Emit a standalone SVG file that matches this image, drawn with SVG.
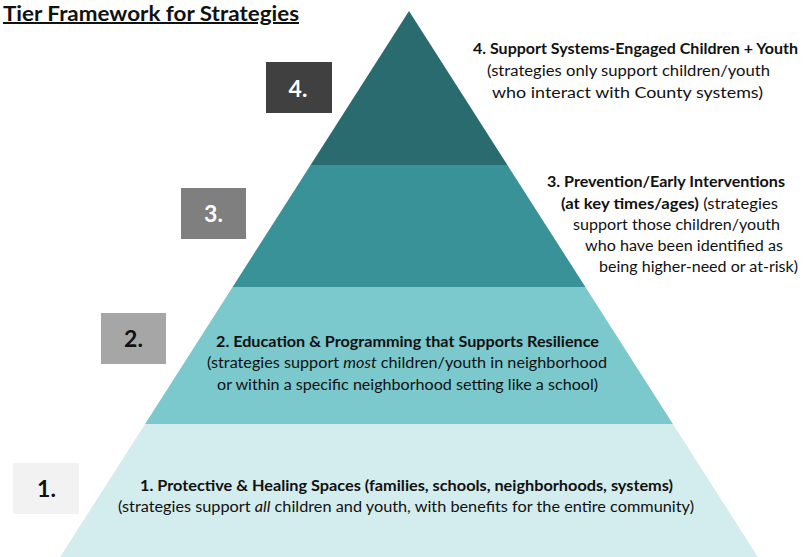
<svg xmlns="http://www.w3.org/2000/svg" width="812" height="557" viewBox="0 0 812 557">
  <style>
    text { font-family: Lato, "Liberation Sans", sans-serif; fill: #111111; }
    .title { font-size: 20px; font-weight: bold; text-decoration: underline; }
    .b { font-size: 14.6px; font-weight: bold; }
    .r { font-size: 14.6px; }
    .i { font-style: italic; }
    .bb { font-weight: bold; }
    .num { font-size: 23px; font-weight: bold; text-anchor: middle; }
  </style>
  <rect x="0" y="0" width="812" height="557" fill="#ffffff"/>

  <text class="title" x="3" y="21" textLength="296" lengthAdjust="spacingAndGlyphs">Tier Framework for Strategies</text>

  <g id="tier1">
    <polygon points="145.1,424 672.9,424 757.9,557 60.1,557" fill="#d3ecee"/>
    <text class="b" x="140" y="490.5" textLength="533" lengthAdjust="spacingAndGlyphs">1. Protective &amp; Healing Spaces (families, schools, neighborhoods, systems)</text>
    <text class="r" x="118" y="511.5" textLength="576" lengthAdjust="spacingAndGlyphs">(strategies support <tspan class="i">all</tspan> children and youth, with benefits for the entire community)</text>
  </g>

  <g id="tier2">
    <polygon points="232.6,287 585.4,287 672.9,424 145.1,424" fill="#7bc8cd"/>
    <text class="b" x="216" y="346.5" textLength="383" lengthAdjust="spacingAndGlyphs">2. Education &amp; Programming that Supports Resilience</text>
    <text class="r" x="207" y="368" textLength="400" lengthAdjust="spacingAndGlyphs">(strategies support <tspan class="i">most</tspan> children/youth in neighborhood</text>
    <text class="r" x="217" y="390" textLength="381" lengthAdjust="spacingAndGlyphs">or within a specific neighborhood setting like a school)</text>
  </g>

  <g id="tier3">
    <polygon points="310.6,165 507.4,165 585.4,287 232.6,287" fill="#3a9299"/>
    <text class="b" x="547" y="187.3" textLength="238" lengthAdjust="spacingAndGlyphs">3. Prevention/Early Interventions</text>
    <text class="r" x="561" y="209" textLength="217" lengthAdjust="spacingAndGlyphs"><tspan class="bb">(at key times/ages)</tspan> (strategies</text>
    <text class="r" x="573" y="229.5" textLength="207" lengthAdjust="spacingAndGlyphs">support those children/youth</text>
    <text class="r" x="585" y="250.7" textLength="198" lengthAdjust="spacingAndGlyphs">who have been identified as</text>
    <text class="r" x="599" y="271.7" textLength="199" lengthAdjust="spacingAndGlyphs">being higher-need or at-risk)</text>
  </g>

  <g id="tier4">
    <polygon points="409,11 507.4,165 310.6,165" fill="#2a6b70"/>
    <text class="b" x="473" y="54.3" textLength="325" lengthAdjust="spacingAndGlyphs">4. Support Systems-Engaged Children + Youth</text>
    <text class="r" x="487" y="76" textLength="283" lengthAdjust="spacingAndGlyphs">(strategies only support children/youth</text>
    <text class="r" x="492" y="97.7" textLength="271" lengthAdjust="spacingAndGlyphs">who interact with County systems)</text>
  </g>

  <g id="label4">
    <rect x="266" y="62" width="66" height="51" fill="#404040"/>
    <text class="num" x="298" y="97" style="fill:#ffffff">4.</text>
  </g>
  <g id="label3">
    <rect x="181" y="188" width="65" height="51" fill="#7f7f7f"/>
    <text class="num" x="213.5" y="222" style="fill:#ffffff">3.</text>
  </g>
  <g id="label2">
    <rect x="101" y="313" width="65" height="51" fill="#a6a6a6"/>
    <text class="num" x="133.5" y="346.5">2.</text>
  </g>
  <g id="label1">
    <rect x="13" y="463" width="66" height="51" fill="#f2f2f2"/>
    <text class="num" x="46.5" y="497">1.</text>
  </g>
</svg>
